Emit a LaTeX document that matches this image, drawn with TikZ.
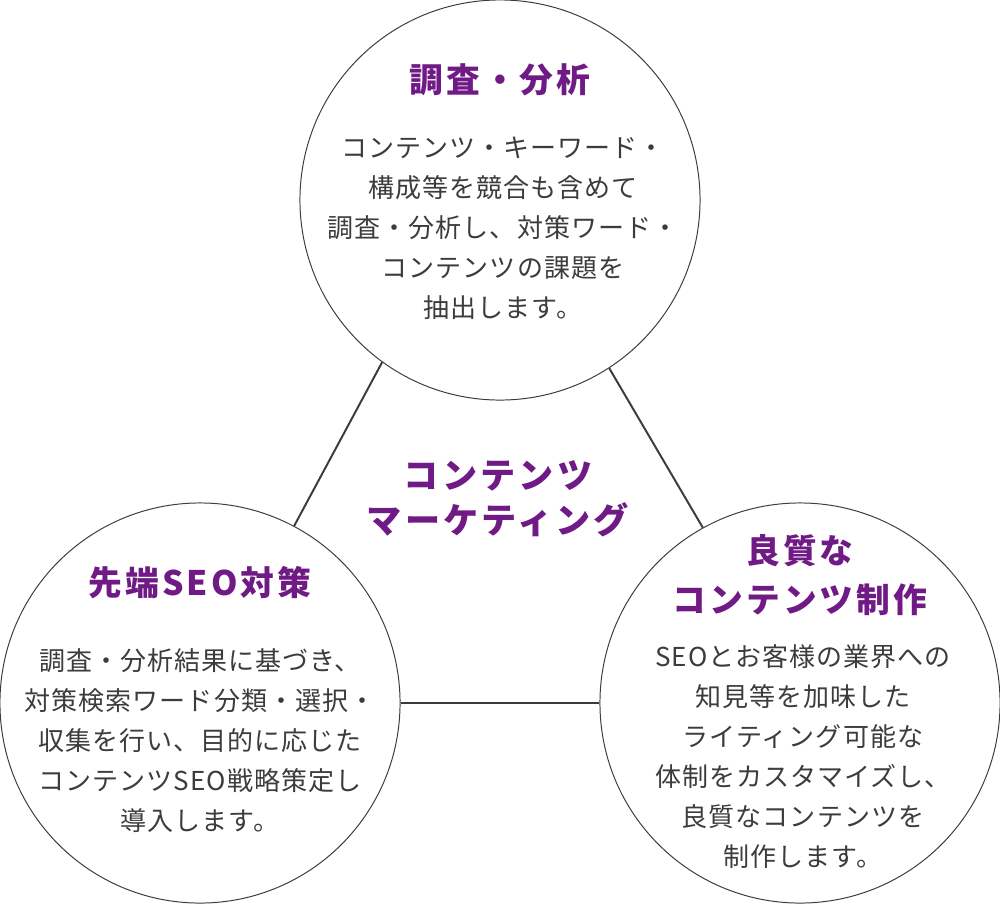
\documentclass[tikz,border=0pt]{standalone}
\usepackage{fontspec}
\setmainfont{Noto Sans CJK JP}
\newfontfamily\jpbody[LetterSpace=4]{Noto Sans CJK JP}
\newfontfamily\jptitle[LetterSpace=9]{Noto Sans CJK JP}
\usetikzlibrary{positioning}
\definecolor{lilla}{HTML}{701A86}
\definecolor{graa}{HTML}{3C3C3C}
\tikzset{
    kreds/.style={
           circle,
           draw=graa, line width=0.7pt,
           minimum size=10cm,
           inner sep=0pt},
    pil/.style={
           draw=graa,
           line width=1.4pt},
    titel/.style={
           text=lilla,
           font=\jptitle\bfseries\fontsize{24}{33}\selectfont,
           align=center,
           inner sep=0pt},
    tekst/.style={
           text=graa,
           font=\jpbody\fontsize{18.5}{28.45}\selectfont,
           align=center,
           inner sep=0pt}
}
\begin{document}
\begin{tikzpicture}[x=0.025cm, y=-0.025cm]
        \useasboundingbox (0,0) rectangle (1000,903);
        \node[kreds] (chosa) at (500,200) {};
        \node[kreds] (seo) at (200,703) {};
        \node[kreds] (seisaku) at (800,703) {};

        \draw[pil] (chosa.234.8) -- (seo.62.4);
        \draw[pil] (chosa.303.8) -- (seisaku.119.2);
        \draw[pil] (seo.east) -- (seisaku.west);

        \node[titel] (t1) at (500,80) {調査・分析};
        \node[tekst] (b1) at (503,228) {コンテンツ・キーワード・\\構成等を競合も含めて\\調査・分析し、対策ワード・\\コンテンツの課題を\\抽出します。};

        \node[titel] (t2) at (200,583) {先端SEO対策};
        \node[tekst] (b2) at (200,741) {調査・分析結果に基づき、\\対策検索ワード分類・選択・\\収集を行い、目的に応じた\\コンテンツSEO戦略策定し\\導入します。};

        \node[titel, font=\jptitle\bfseries\fontsize{24}{35}\selectfont] (t3) at (800,575) {良質な\\コンテンツ制作};
        \node[tekst] (b3) at (803,757) {SEOとお客様の業界への\\知見等を加味した\\ライティング可能な\\体制をカスタマイズし、\\良質なコンテンツを\\制作します。};

        \node[titel, font=\jptitle\bfseries\fontsize{25}{32}\selectfont] (midt) at (498,499) {コンテンツ\\マーケティング};
\end{tikzpicture}
\end{document}
